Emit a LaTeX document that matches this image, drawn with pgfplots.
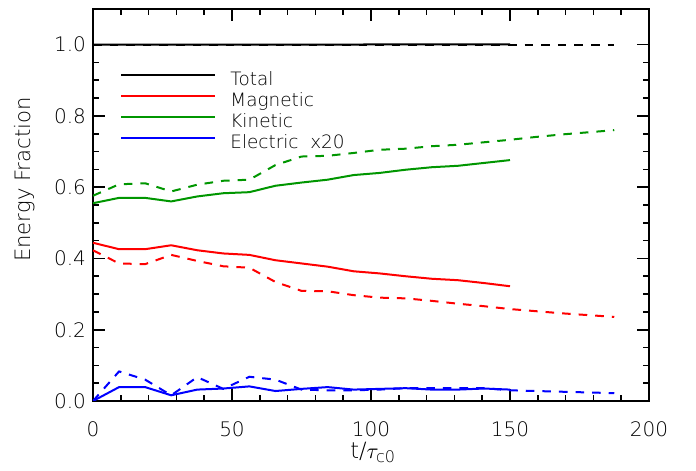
\documentclass[border=0pt]{standalone}
\usepackage{pgfplots}
\pgfplotsset{compat=1.18}
\usepackage{pgfplotstable}
\usepackage{fontspec}
\setmainfont{DejaVu Sans ExtraLight}
\definecolor{idlgreen}{RGB}{0,150,0}
\definecolor{idlred}{RGB}{255,0,0}
\definecolor{idlblue}{RGB}{0,0,255}

\pgfplotstableread{
t T Ks Ms Es
0 1.000 0.555 0.444 0.000
9.375 1.000 0.570 0.426 0.039
18.75 1.000 0.570 0.426 0.039
28.125 1.000 0.560 0.437 0.016
37.5 1.000 0.574 0.423 0.032
46.875 1.000 0.583 0.414 0.035
56.25 1.000 0.586 0.410 0.041
65.625 1.000 0.604 0.395 0.028
75 1.000 0.613 0.386 0.034
84.375 1.000 0.621 0.377 0.039
93.75 1.000 0.634 0.364 0.032
103.125 1.001 0.640 0.358 0.034
112.5 1.001 0.649 0.350 0.036
121.875 1.001 0.656 0.343 0.032
131.25 1.001 0.660 0.339 0.032
140.625 1.001 0.668 0.331 0.035
150 1.001 0.676 0.322 0.032
}\solid

\pgfplotstableread{
t T Kd Md Ed
0 0.998 0.576 0.423 0.000
9.375 0.998 0.608 0.386 0.083
18.75 0.998 0.611 0.384 0.060
28.125 0.998 0.588 0.410 0.016
37.5 0.998 0.607 0.393 0.067
46.875 0.998 0.618 0.378 0.034
56.25 0.998 0.621 0.374 0.068
65.625 0.998 0.662 0.334 0.060
75 0.998 0.686 0.309 0.032
84.375 0.998 0.688 0.308 0.030
93.75 0.998 0.696 0.297 0.030
103.125 0.998 0.705 0.290 0.032
112.5 0.998 0.708 0.288 0.036
121.875 0.998 0.715 0.281 0.036
131.25 0.998 0.719 0.273 0.036
140.625 0.998 0.726 0.266 0.036
150 0.998 0.733 0.258 0.030
159.375 0.998 0.741 0.252 0.028
168.75 0.998 0.748 0.246 0.026
178.125 0.998 0.754 0.241 0.024
187.5 0.998 0.760 0.236 0.022
}\dashed

\begin{document}
\begin{tikzpicture}
\useasboundingbox (-46.5pt,-35pt) rectangle (301.5pt,200.5pt);
\begin{axis}[
  scale only axis, width=278pt, height=196pt,
  xmin=0, xmax=200, ymin=0, ymax=1.1,
  xtick={0,50,100,150,200}, ytick={0,0.2,0.4,0.6,0.8,1.0},
  minor x tick num=4, minor y tick num=3,
  tick align=inside, major tick length=6pt, minor tick length=3pt,
  axis line style={line width=1pt},
  every tick/.style={black, line width=0.8pt},
  /pgf/number format/assume math mode=true,
  tick label style={font=\fontsize{10}{11}\selectfont},
  xticklabel style={yshift=-6.8pt},
  yticklabel style={/pgf/number format/.cd, fixed, fixed zerofill, precision=1},
  xlabel={t/$\tau_{\mbox{\fontsize{8}{9}\selectfont c0}}$},
  ylabel={Energy Fraction},
  label style={font=\fontsize{10.6}{12}\selectfont},
  xlabel style={at={(axis description cs:0.504,-0.103)}, anchor=north, inner sep=0pt, font=\fontsize{11.2}{12}\selectfont},
  ylabel style={at={(axis description cs:-0.1226,0.565)}, anchor=center, inner sep=0pt},
  legend style={draw=none, fill=none, at={(axis description cs:0.0486,0.842)}, anchor=north west,
    inner sep=0pt, row sep=0pt, font=\fontsize{9.2}{10.5}\selectfont,
    nodes={inner sep=0pt, text height=7pt, text depth=3.5pt},
    /tikz/every odd column/.append style={column sep=7pt}},
  legend image code/.code={\draw[#1, line width=1pt] (0pt,3.3pt) -- (47pt,3.3pt);},
  legend cell align=left,
  every axis plot/.append style={line width=1pt},
]
\addplot[black] table[x=t, y=T] {\solid};
\addlegendentry{Total}
\addplot[idlred] table[x=t, y=Ms] {\solid};
\addlegendentry{Magnetic}
\addplot[idlgreen] table[x=t, y=Ks] {\solid};
\addlegendentry{Kinetic}
\addplot[idlblue] table[x=t, y=Es] {\solid};
\addlegendentry{Electric\ \ x20}
\addplot[black, dash pattern=on 4.3pt off 4pt, forget plot] table[x=t, y=T] {\dashed};
\addplot[idlred, dash pattern=on 4.3pt off 4pt, forget plot] table[x=t, y=Md] {\dashed};
\addplot[idlgreen, dash pattern=on 4.3pt off 4pt, forget plot] table[x=t, y=Kd] {\dashed};
\addplot[idlblue, dash pattern=on 4.3pt off 4pt, forget plot] table[x=t, y=Ed] {\dashed};
\end{axis}
\end{tikzpicture}
\end{document}
